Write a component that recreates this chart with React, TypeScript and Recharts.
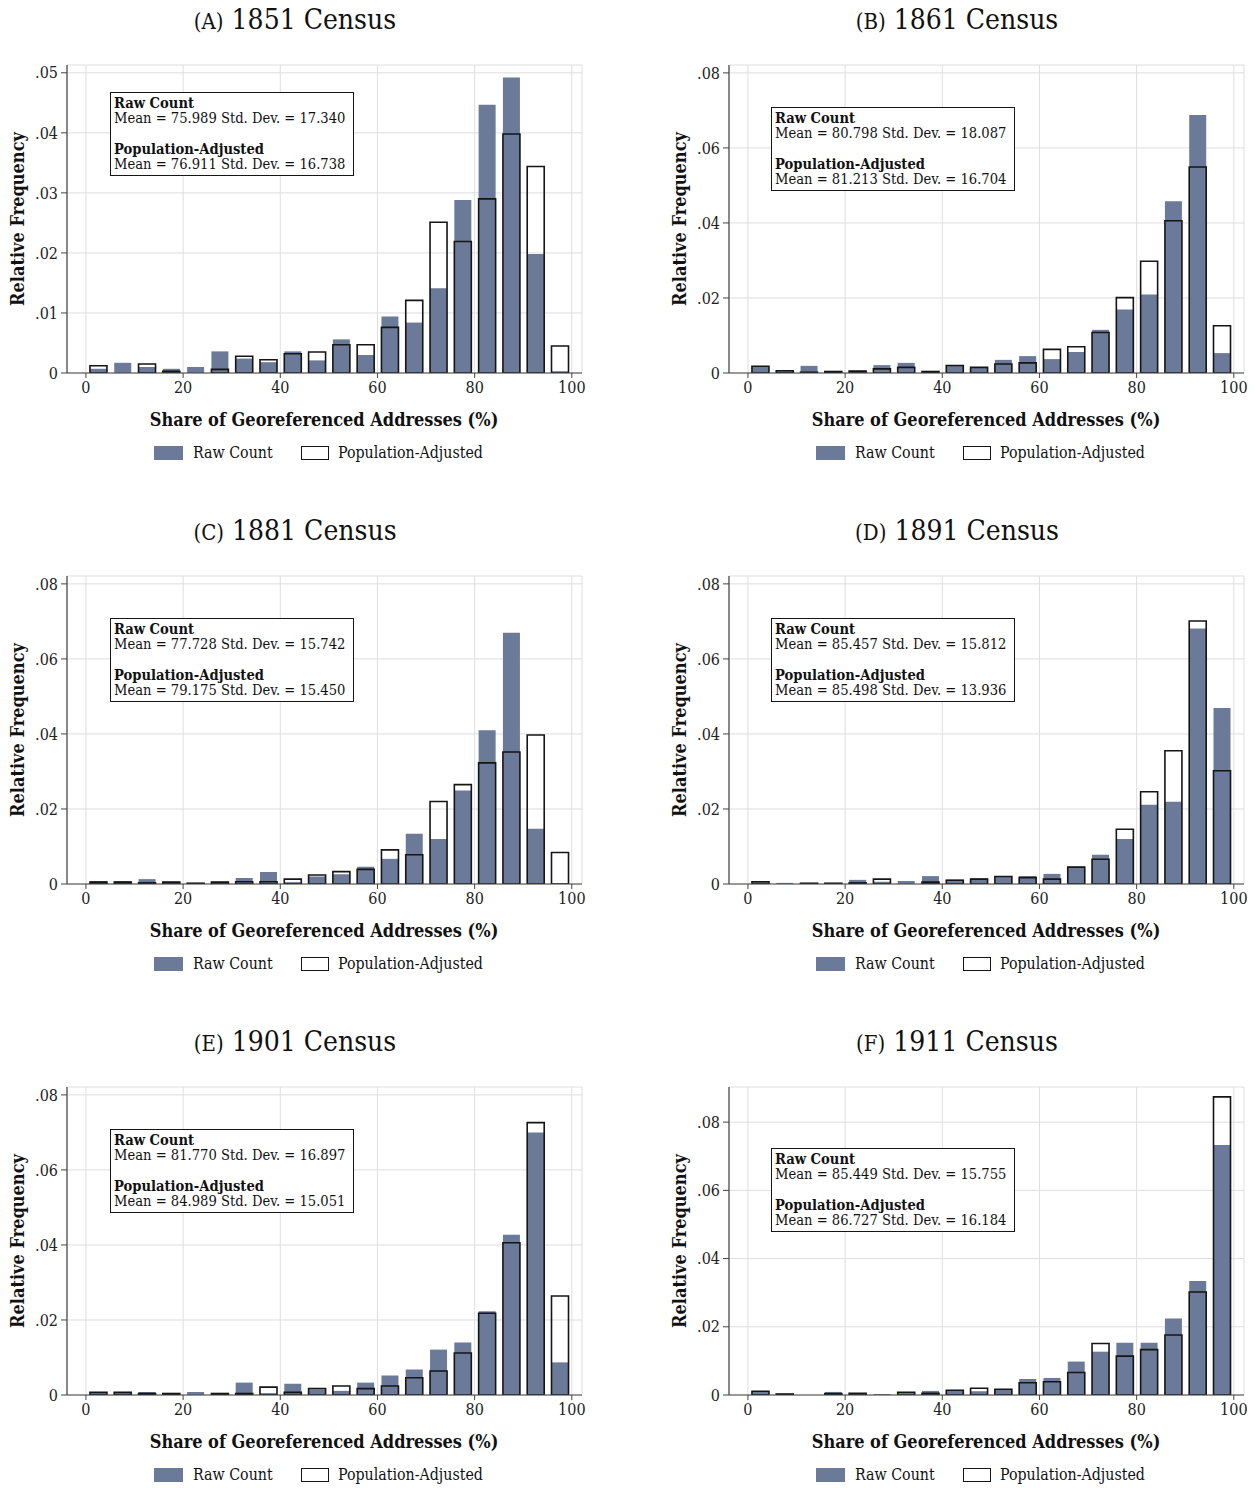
import React from 'react';
import { BarChart, Bar, XAxis, YAxis, CartesianGrid } from 'recharts';

const FONT = '"DejaVu Serif", "Liberation Serif", serif';
const RAW_FILL = '#6b7a99';
const OUTLINE = '#151515';
const AXIS = '#444';

// histogram bins of width 5, plotted at their midpoints
const binMids = [2.5, 7.5, 12.5, 17.5, 22.5, 27.5, 32.5, 37.5, 42.5, 47.5, 52.5, 57.5, 62.5, 67.5, 72.5, 77.5, 82.5, 87.5, 92.5, 97.5];
const xTicks = [0, 20, 40, 60, 80, 100];
const yTicksSmall = [0, 0.01, 0.02, 0.03, 0.04, 0.05];
const yTicksLarge = [0, 0.02, 0.04, 0.06, 0.08];

const raw1851 = [0.0007, 0.0017, 0.001, 0.0007, 0.001, 0.0036, 0.0024, 0.0018, 0.0036, 0.0021, 0.0056, 0.003, 0.0094, 0.0084, 0.0141, 0.0288, 0.0447, 0.0492, 0.0198, 0.0003];
const adj1851 = [0.0012, 0, 0.0015, 0.0003, 0, 0.0006, 0.0028, 0.0022, 0.0032, 0.0035, 0.0047, 0.0047, 0.0076, 0.0121, 0.0251, 0.0219, 0.029, 0.0398, 0.0344, 0.0045];

const raw1861 = [0.0018, 0.0006, 0.0019, 0.0004, 0.0006, 0.0021, 0.0027, 0.0004, 0.002, 0.0015, 0.0035, 0.0045, 0.0037, 0.0056, 0.0115, 0.0169, 0.0209, 0.0458, 0.0688, 0.0053];
const adj1861 = [0.0018, 0.0006, 0.0002, 0.0004, 0.0005, 0.0011, 0.0015, 0.0004, 0.002, 0.0015, 0.0024, 0.0027, 0.0063, 0.007, 0.0108, 0.0201, 0.0298, 0.0406, 0.0549, 0.0126];

const raw1881 = [0.0008, 0.0008, 0.0013, 0.0006, 0.0003, 0.0006, 0.0016, 0.0032, 0.0005, 0.002, 0.0026, 0.0046, 0.0067, 0.0134, 0.012, 0.0249, 0.041, 0.067, 0.0147, 0];
const adj1881 = [0.0005, 0.0005, 0.0003, 0.0005, 0.0002, 0.0005, 0.0006, 0.0006, 0.0013, 0.0024, 0.0033, 0.0039, 0.0091, 0.0078, 0.022, 0.0265, 0.0323, 0.0352, 0.0397, 0.0084];

const raw1891 = [0.0006, 0.0003, 0.0002, 0.0002, 0.0011, 0.0006, 0.0008, 0.0021, 0.0012, 0.0015, 0.002, 0.0021, 0.0027, 0.0046, 0.0078, 0.012, 0.0211, 0.0219, 0.0681, 0.0469];
const adj1891 = [0.0006, 0, 0.0002, 0.0002, 0.0003, 0.0013, 0, 0.0005, 0.001, 0.0013, 0.002, 0.0017, 0.0013, 0.0045, 0.0066, 0.0146, 0.0246, 0.0355, 0.0701, 0.0302];

const raw1901 = [0.0007, 0.0007, 0.0008, 0.0005, 0.0008, 0.0004, 0.0033, 0.0005, 0.003, 0.0014, 0.0011, 0.0033, 0.0052, 0.0068, 0.0121, 0.014, 0.0223, 0.0427, 0.07, 0.0087];
const adj1901 = [0.0007, 0.0007, 0.0004, 0.0004, 0, 0.0004, 0.0004, 0.0021, 0.0007, 0.0017, 0.0024, 0.0017, 0.0024, 0.0046, 0.0064, 0.0112, 0.0218, 0.0406, 0.0726, 0.0264];

const raw1911 = [0.0011, 0.0003, 0, 0.0009, 0.0005, 0.0003, 0.0008, 0.0012, 0.0014, 0.0011, 0.0017, 0.0047, 0.005, 0.0098, 0.0127, 0.0153, 0.0153, 0.0224, 0.0334, 0.0733];
const adj1911 = [0.0011, 0.0003, 0, 0.0004, 0.0005, 0, 0.0008, 0.0005, 0.0014, 0.002, 0.0017, 0.0036, 0.0039, 0.0066, 0.0151, 0.0114, 0.0133, 0.0176, 0.0302, 0.0874];

// summary lines: [raw mean, raw sd, adjusted mean, adjusted sd]
const stats1851 = ['75.989', '17.340', '76.911', '16.738'];
const stats1861 = ['80.798', '18.087', '81.213', '16.704'];
const stats1881 = ['77.728', '15.742', '79.175', '15.450'];
const stats1891 = ['85.457', '15.812', '85.498', '13.936'];
const stats1901 = ['81.770', '16.897', '84.989', '15.051'];
const stats1911 = ['85.449', '15.755', '86.727', '16.184'];

const fmtY = (v: number) => (v === 0 ? '0' : v.toFixed(2).replace(/^0/, ''));

type PanelProps = {
  letter: string;
  year: string;
  raw: number[];
  adj: number[];
  stats: string[];
  yTicks: number[];
  yMax: number;
  boxTop: number;
  boxLeft: number;
  left: number;
  top: number;
};

const Panel = ({ letter, year, raw, adj, stats, yTicks, yMax, boxTop, boxLeft, left, top }: PanelProps) => {
  const data = binMids.map((x, i) => ({ x, raw: raw[i], adj: adj[i] }));
  const tickStyle = { fontFamily: FONT, fontSize: 16, fill: '#222', fontStretch: 'condensed' as const };
  return (
    <div style={{ position: 'absolute', left, top, width: 593, height: 480, fontFamily: FONT, fontStretch: 'condensed', color: '#111' }}>
      <div style={{ position: 'absolute', left: 0, top: 3, width: 590, height: 34, lineHeight: '34px', textAlign: 'center', whiteSpace: 'nowrap' }}>
        <span style={{ fontSize: 22 }}>({letter})</span>
        <span style={{ fontSize: 28 }}> {year} Census</span>
      </div>

      <BarChart width={593} height={410} data={data} margin={{ top: 65, right: 11, bottom: 7, left: 0 }}>
        <CartesianGrid xAxisId="raw" stroke="#dedede" strokeWidth={1} />
        <XAxis
          xAxisId="raw"
          type="number"
          dataKey="x"
          domain={[-3.9, 102.1]}
          allowDataOverflow
          ticks={xTicks}
          interval={0}
          height={30}
          tickSize={5}
          tickMargin={4}
          tick={tickStyle}
          axisLine={{ stroke: AXIS, strokeWidth: 1.2 }}
          tickLine={{ stroke: AXIS }}
        />
        {/* second axis only so the outline bars sit on top of the filled ones, not beside them */}
        <XAxis xAxisId="adj" type="number" dataKey="x" domain={[-3.9, 102.1]} allowDataOverflow hide height={0} />
        <YAxis
          type="number"
          domain={[0, yMax]}
          allowDataOverflow
          ticks={yTicks}
          interval={0}
          tickFormatter={fmtY}
          width={67}
          tickSize={6}
          tickMargin={3}
          tick={tickStyle}
          axisLine={{ stroke: AXIS, strokeWidth: 1.2 }}
          tickLine={{ stroke: AXIS }}
        />
        <Bar xAxisId="raw" dataKey="raw" fill={RAW_FILL} barSize={17} isAnimationActive={false} />
        <Bar xAxisId="adj" dataKey="adj" fill="none" stroke={OUTLINE} strokeWidth={1.6} barSize={17} isAnimationActive={false} />
      </BarChart>

      <div
        style={{
          position: 'absolute', left: 17, top: 219, transform: 'translate(-50%, -50%) rotate(-90deg)',
          fontSize: 18, fontWeight: 'bold', whiteSpace: 'nowrap',
        }}
      >
        Relative Frequency
      </div>

      <div
        style={{
          position: 'absolute', left: 324, top: 419, transform: 'translate(-50%, -50%)',
          fontSize: 18, fontWeight: 'bold', whiteSpace: 'nowrap',
        }}
      >
        Share of Georeferenced Addresses (%)
      </div>

      <div
        style={{
          position: 'absolute', left: boxLeft, top: boxTop, width: 244, height: 84, boxSizing: 'border-box',
          border: `1.5px solid ${OUTLINE}`, background: '#fff', padding: '2px 3px', fontSize: 14.6, lineHeight: '15.3px', whiteSpace: 'nowrap',
        }}
      >
        <div style={{ fontWeight: 'bold' }}>Raw Count</div>
        <div>Mean = {stats[0]} Std. Dev. = {stats[1]}</div>
        <div>&nbsp;</div>
        <div style={{ fontWeight: 'bold' }}>Population-Adjusted</div>
        <div>Mean = {stats[2]} Std. Dev. = {stats[3]}</div>
      </div>

      <div style={{ position: 'absolute', left: 154, top: 446, width: 29, height: 14, background: RAW_FILL }} />
      <div style={{ position: 'absolute', left: 193, top: 444, fontSize: 15.8, lineHeight: '18px', whiteSpace: 'nowrap' }}>Raw Count</div>
      <div style={{ position: 'absolute', left: 301, top: 446, width: 28, height: 14, boxSizing: 'border-box', border: `1.5px solid ${OUTLINE}`, background: '#fff' }} />
      <div style={{ position: 'absolute', left: 338, top: 444, fontSize: 15.8, lineHeight: '18px', whiteSpace: 'nowrap' }}>Population-Adjusted</div>
    </div>
  );
};

const App = () => (
  <div style={{ position: 'absolute', left: 0, top: 0, width: 1255, height: 1488, background: '#fff' }}>
    <Panel letter="A" year="1851" raw={raw1851} adj={adj1851} stats={stats1851} yTicks={yTicksSmall} yMax={0.0513} boxLeft={110} boxTop={92} left={0} top={0} />
    <Panel letter="B" year="1861" raw={raw1861} adj={adj1861} stats={stats1861} yTicks={yTicksLarge} yMax={0.0821} boxLeft={109} boxTop={107} left={662} top={0} />
    <Panel letter="C" year="1881" raw={raw1881} adj={adj1881} stats={stats1881} yTicks={yTicksLarge} yMax={0.0821} boxLeft={110} boxTop={107} left={0} top={511} />
    <Panel letter="D" year="1891" raw={raw1891} adj={adj1891} stats={stats1891} yTicks={yTicksLarge} yMax={0.0821} boxLeft={109} boxTop={107} left={662} top={511} />
    <Panel letter="E" year="1901" raw={raw1901} adj={adj1901} stats={stats1901} yTicks={yTicksLarge} yMax={0.0821} boxLeft={110} boxTop={107} left={0} top={1022} />
    <Panel letter="F" year="1911" raw={raw1911} adj={adj1911} stats={stats1911} yTicks={yTicksLarge} yMax={0.0903} boxLeft={109} boxTop={126} left={662} top={1022} />
  </div>
);

export default App;
